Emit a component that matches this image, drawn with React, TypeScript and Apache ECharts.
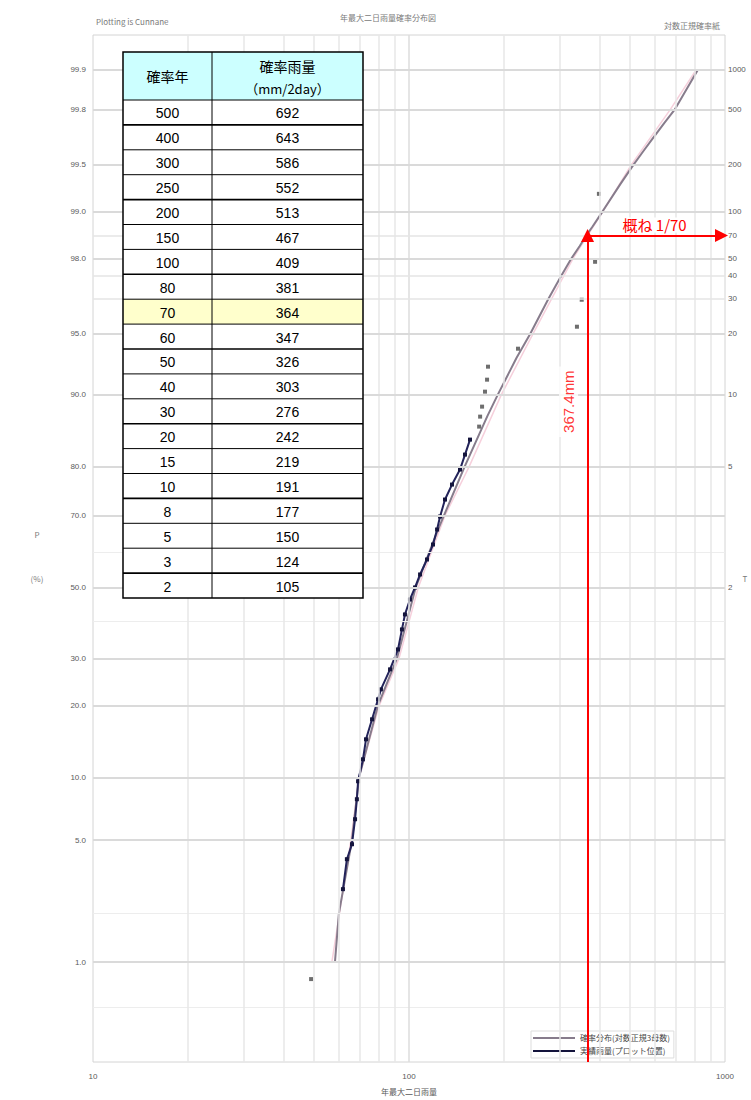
import React, { useEffect, useRef } from "react";
import * as echarts from "echarts";

// ---------------- data ----------------
const tableYears = [500, 400, 300, 250, 200, 150, 100, 80, 70, 60, 50, 40, 30, 20, 15, 10, 8, 5, 3, 2];
const tableRain = [692, 643, 586, 552, 513, 467, 409, 381, 364, 347, 326, 303, 276, 242, 219, 191, 177, 150, 124, 105];
const highlightYear = 70;

// probability-paper ordinates (non-exceedance %)
const probValues = [99.9, 99.8, 99.5, 99, 98, 95, 90, 80, 70, 50, 30, 20, 10, 5, 1];
const probLabels = ["99.9", "99.8", "99.5", "99.0", "98.0", "95.0", "90.0", "80.0", "70.0", "50.0", "30.0", "20.0", "10.0", "5.0", "1.0"];
const probOrdinates = [5.18, 4.78, 4.23, 3.76, 3.29, 2.54, 1.93, 1.21, 0.72, 0, -0.71, -1.18, -1.9, -2.53, -3.75];
const minorProbs = [60, 40, 2, 0.5];
const returnPeriods = [1000, 500, 200, 100, 70, 50, 40, 30, 20, 10, 5, 2];

// lower / upper part of fitted curve
const lowerFitProb = [1, 2, 5, 10, 20, 30];
const lowerFitRain = [58.3, 60.0, 66.0, 69.5, 79.8, 91.6];
const topFitProb = [99.9];
const topFitRain = [820];

// faint pink companion curve
const pinkProb = [1, 5, 10, 20, 30, 50, 70, 80, 90, 95, 98, 99, 99.5, 99.8, 99.9];
const pinkRain = [57, 65.5, 69.5, 80.5, 93, 107, 130, 155, 196, 247, 330, 410, 505, 670, 810];

// observed annual maxima with their plotting ordinate on the paper
const obsRain = [61.8, 63.6, 66.0, 67.5, 68.4, 69.0, 71.5, 73.1, 76.4, 79.8, 81.5, 87.1, 92.3, 95.0, 97.1, 100.7, 104.5, 108.4, 114.0, 119.1, 122.7, 125.4, 130.0, 136.8, 145.0, 150.4, 156.0];
const obsPaperY = [-3.02, -2.72, -2.57, -2.32, -2.12, -1.94, -1.72, -1.52, -1.32, -1.12, -1.02, -0.82, -0.62, -0.42, -0.27, -0.12, 0, 0.13, 0.28, 0.43, 0.58, 0.71, 0.88, 1.03, 1.18, 1.33, 1.48];
const otherRain = [49.0, 166.7, 167.9, 170.3, 174.0, 176.6, 177.8, 221.3, 340, 352, 388, 399];
const otherPaperY = [-3.92, 1.61, 1.71, 1.81, 1.96, 2.08, 2.21, 2.39, 2.61, 2.88, 3.26, 3.94];

const xMinor = [20, 30, 40, 50, 60, 70, 80, 90, 200, 300, 400, 500, 600, 700, 800, 900];
const xMajor = [100];

const annotRain = 367.4;
const annotYear = 70;
const annotLabelPaperY = 1.86;

const fitName = "確率分布(対数正規3母数)";
const obsName = "実績雨量(プロット位置)";

// ---------------- paper scale ----------------
function normInv(p: number): number {
  const a = [-3.969683028665376e1, 2.209460984245205e2, -2.759285104469687e2, 1.38357751867269e2, -3.066479806614716e1, 2.506628277459239];
  const b = [-5.447609879822406e1, 1.615858368580409e2, -1.556989798598866e2, 6.680131188771972e1, -1.328068155288572e1];
  const c = [-7.784894002430293e-3, -3.223964580411365e-1, -2.400758277161838, -2.549732539343734, 4.374664141464968, 2.938163982698783];
  const d = [7.784695709041462e-3, 3.224671290700398e-1, 2.445134137142996, 3.754408661907416];
  const pl = 0.02425;
  let q: number, r: number;
  if (p < pl) {
    q = Math.sqrt(-2 * Math.log(p));
    return (((((c[0] * q + c[1]) * q + c[2]) * q + c[3]) * q + c[4]) * q + c[5]) / ((((d[0] * q + d[1]) * q + d[2]) * q + d[3]) * q + 1);
  }
  if (p <= 1 - pl) {
    q = p - 0.5;
    r = q * q;
    return ((((((a[0] * r + a[1]) * r + a[2]) * r + a[3]) * r + a[4]) * r + a[5]) * q) / (((((b[0] * r + b[1]) * r + b[2]) * r + b[3]) * r + b[4]) * r + 1);
  }
  q = Math.sqrt(-2 * Math.log(1 - p));
  return -(((((c[0] * q + c[1]) * q + c[2]) * q + c[3]) * q + c[4]) * q + c[5]) / ((((d[0] * q + d[1]) * q + d[2]) * q + d[3]) * q + 1);
}
const anchorZ = probValues.map((p) => normInv(p / 100));
function paperY(pct: number): number {
  const z = normInv(pct / 100);
  let i = 0;
  for (i = 0; i < anchorZ.length - 2; i++) if (z >= anchorZ[i + 1]) break;
  const z0 = anchorZ[i], z1 = anchorZ[i + 1];
  const u0 = probOrdinates[i], u1 = probOrdinates[i + 1];
  return u0 + ((z - z0) * (u1 - u0)) / (z1 - z0);
}
const tProb = (T: number) => 100 * (1 - 1 / T);

const Y_MIN = -4.75;
const Y_MAX = 5.53;

export default function App() {
  const ref = useRef<HTMLDivElement>(null);
  useEffect(() => {
    if (!ref.current) return;
    const chart = echarts.init(ref.current, undefined, { renderer: "svg" });

    const fitPoints = [
      ...lowerFitProb.map((p, i) => [lowerFitRain[i], paperY(p)]),
      ...tableYears.map((T, i) => [tableRain[i], paperY(tProb(T))]),
      ...topFitProb.map((p, i) => [topFitRain[i], paperY(p)]),
    ].sort((a, b) => a[1] - b[1]);
    const pinkPoints = pinkProb.map((p, i) => [pinkRain[i], paperY(p)]);
    const obsPoints = obsRain.map((v, i) => [v, obsPaperY[i]]);
    const otherPoints = otherRain.map((v, i) => [v, otherPaperY[i]]);
    const u70 = paperY(tProb(annotYear));

    const axisLabelStyle = { fontSize: 8, color: "#5a5a5a", fontFamily: "'Liberation Sans', sans-serif" };
    const gridLines: any[] = [
      ...minorProbs.map((p) => ({ yAxis: paperY(p), label: { show: false }, lineStyle: { color: "#ededed", width: 1, type: "solid" } })),
      ...xMinor.map((v) => ({ xAxis: v, label: { show: false }, lineStyle: { color: "#e7e7e7", width: 1.5, type: "solid" } })),
      ...xMajor.map((v) => ({ xAxis: v, label: { show: false }, lineStyle: { color: "#dcdcdc", width: 1.5, type: "solid" } })),
      ...returnPeriods.map((T) => ({
        yAxis: paperY(tProb(T)),
        label: { show: true, position: "end", distance: 3, formatter: String(T), ...axisLabelStyle },
        lineStyle: { color: "#e4e4e4", width: 1.5, type: "solid" },
      })),
      ...probValues.map((p, i) => ({
        yAxis: probOrdinates[i],
        label: { show: true, position: "start", distance: 7, formatter: probLabels[i], ...axisLabelStyle },
        lineStyle: { color: "#dadada", width: 2, type: "solid" },
      })),
    ];

    // table graphic
    const TZ = 100;
    const tLeft = 123, tCol = 212, tRight = 363, tTop = 52, hdrH = 48, rowH = 24.9;
    const tBottom = tTop + hdrH + rowH * tableYears.length;
    const tableFont = "'Liberation Sans', 'Noto Sans CJK JP', sans-serif";
    const tableEls: any[] = [];
    tableEls.push({ type: "rect", z: TZ, shape: { x: tLeft, y: tTop, width: tRight - tLeft, height: tBottom - tTop }, style: { fill: "#ffffff" } });
    tableEls.push({ type: "rect", z: TZ, shape: { x: tLeft, y: tTop, width: tRight - tLeft, height: hdrH }, style: { fill: "#ccffff" } });
    tableYears.forEach((T, i) => {
      const y = tTop + hdrH + i * rowH;
      if (T === highlightYear) {
        tableEls.push({ type: "rect", z: TZ + 1, shape: { x: tLeft, y, width: tRight - tLeft, height: rowH }, style: { fill: "#ffffcc" } });
      }
      tableEls.push({ type: "text", z: TZ + 3, style: { x: (tLeft + tCol) / 2, y: y + rowH / 2 + 1, text: String(T), fill: "#000", font: `14px ${tableFont}`, align: "center", verticalAlign: "middle" } });
      tableEls.push({ type: "text", z: TZ + 3, style: { x: (tCol + tRight) / 2, y: y + rowH / 2 + 1, text: String(tableRain[i]), fill: "#000", font: `14px ${tableFont}`, align: "center", verticalAlign: "middle" } });
      tableEls.push({ type: "line", z: TZ + 2, shape: { x1: tLeft, y1: y, x2: tRight, y2: y }, style: { stroke: "#000", lineWidth: i % 3 === 1 ? 1.6 : 1 } });
    });
    tableEls.push({ type: "line", z: TZ + 2, shape: { x1: tCol, y1: tTop, x2: tCol, y2: tBottom }, style: { stroke: "#000", lineWidth: 1 } });
    tableEls.push({ type: "rect", z: TZ + 2, shape: { x: tLeft, y: tTop, width: tRight - tLeft, height: tBottom - tTop }, style: { fill: "none", stroke: "#000", lineWidth: 1.5 } });
    tableEls.push({ type: "text", z: TZ + 3, style: { x: (tLeft + tCol) / 2, y: tTop + hdrH / 2, text: "確率年", fill: "#000", font: `14px 'Noto Sans CJK JP', sans-serif`, align: "center", verticalAlign: "middle" } });
    tableEls.push({ type: "text", z: TZ + 3, style: { x: (tCol + tRight) / 2, y: tTop + 14, text: "確率雨量", fill: "#000", font: `14px 'Noto Sans CJK JP', sans-serif`, align: "center", verticalAlign: "middle" } });
    tableEls.push({ type: "text", z: TZ + 3, style: { x: (tCol + tRight) / 2, y: tTop + 36, text: "（mm/2day）", fill: "#000", font: `13px 'Noto Sans CJK JP', sans-serif`, align: "center", verticalAlign: "middle" } });

    const smallText = (x: number, y: number, text: string, align = "left") => ({
      type: "text",
      z: TZ,
      style: { x, y, text, fill: "#7a7a7a", font: "8px 'Noto Sans CJK JP', sans-serif", align, verticalAlign: "middle" },
    });

    const option: any = {
      animation: false,
      backgroundColor: "#ffffff",
      grid: { left: 93, right: 26, top: 35, bottom: 37, show: true, borderColor: "#d4d4d4", borderWidth: 1, backgroundColor: "transparent" },
      xAxis: {
        type: "log",
        logBase: 10,
        min: 10,
        max: 1000,
        axisLine: { show: false },
        axisTick: { show: false },
        splitLine: { show: false },
        axisLabel: { fontSize: 8, color: "#5a5a5a", margin: 10, fontFamily: "'Liberation Sans', sans-serif", formatter: (v: number) => String(Math.round(v)) },
        name: "年最大二日雨量",
        nameLocation: "middle",
        nameGap: 25,
        nameTextStyle: { fontSize: 8, color: "#5a5a5a", fontFamily: "'Noto Sans CJK JP', sans-serif" },
      },
      yAxis: { type: "value", min: Y_MIN, max: Y_MAX, show: false, splitLine: { show: false } },
      legend: {
        data: [fitName, obsName],
        orient: "vertical",
        left: 531,
        top: 1031,
        icon: "rect",
        itemWidth: 42,
        itemHeight: 2,
        itemGap: 5,
        padding: [3, 4, 3, 2],
        borderColor: "#dddddd",
        borderWidth: 1,
        backgroundColor: "#ffffff",
        textStyle: { fontSize: 8, color: "#444", fontFamily: "'Noto Sans CJK JP', sans-serif" },
      },
      series: [
        {
          name: "grid",
          type: "scatter",
          data: [[100, 0]],
          symbolSize: 0,
          silent: true,
          z: 1,
          markLine: { silent: true, symbol: "none", animation: false, data: gridLines },
        },
        {
          name: "pink",
          type: "line",
          data: pinkPoints,
          showSymbol: false,
          lineStyle: { color: "#f6d0dc", width: 1.5 },
          z: 2,
        },
        {
          name: fitName,
          type: "line",
          data: fitPoints,
          showSymbol: false,
          color: "#877c8c",
          lineStyle: { color: "#877c8c", width: 2 },
          z: 3,
        },
        {
          name: obsName,
          type: "line",
          data: obsPoints,
          symbol: "rect",
          symbolSize: 4,
          color: "#1d1d55",
          itemStyle: { color: "#14143c" },
          lineStyle: { color: "#23235a", width: 2 },
          z: 4,
        },
        {
          name: "other",
          type: "scatter",
          data: otherPoints,
          symbol: "rect",
          symbolSize: 4,
          itemStyle: { color: "#4a4a4a" },
          z: 4,
        },
        {
          name: "annotation",
          type: "scatter",
          data: [{ value: [annotRain, annotLabelPaperY], symbolSize: 0 }],
          symbolSize: 0,
          silent: true,
          z: 10,
          label: {
            show: true,
            position: "inside",
            offset: [0, -19],
            rotate: 90,
            formatter: `${annotRain}mm`,
            color: "#ff0000",
            fontSize: 15,
            fontFamily: "'Liberation Sans', sans-serif",
            backgroundColor: "#ffffff",
            padding: [2, 4],
          },
          markLine: {
            silent: true,
            animation: false,
            symbol: ["none", "triangle"],
            symbolSize: [0, 12],
            lineStyle: { color: "#ff0000", width: 2, type: "solid" },
            label: { show: false },
            data: [
              [
                { coord: [annotRain, Y_MIN], symbol: "none" },
                { coord: [annotRain, u70], symbol: "triangle", symbolSize: 13 },
              ],
              [
                {
                  coord: [annotRain, u70],
                  symbol: "none",
                  label: {
                    show: true,
                    position: "insideMiddleTop",
                    distance: 3,
                    formatter: `概ね 1/${annotYear}`,
                    color: "#ff0000",
                    fontSize: 15,
                    fontFamily: "'Noto Sans CJK JP', sans-serif",
                    backgroundColor: "#ffffff",
                    padding: [0, 3],
                  },
                },
                { coord: [975, u70], symbol: "triangle", symbolSize: 13 },
              ],
            ],
          },
        },
      ],
      graphic: [
        smallText(96, 21, "Plotting is Cunnane"),
        smallText(388, 17, "年最大二日雨量確率分布図", "center"),
        smallText(720, 25, "対数正規確率紙", "right"),
        smallText(37, 534, "P", "center"),
        smallText(37, 578, "(%)", "center"),
        smallText(745, 578, "T", "center"),
        ...tableEls,
      ],
    };
    chart.setOption(option);
    return () => chart.dispose();
  }, []);

  return <div ref={ref} style={{ position: "fixed", left: 0, top: 0, width: 751, height: 1100, background: "#fff" }} />;
}
